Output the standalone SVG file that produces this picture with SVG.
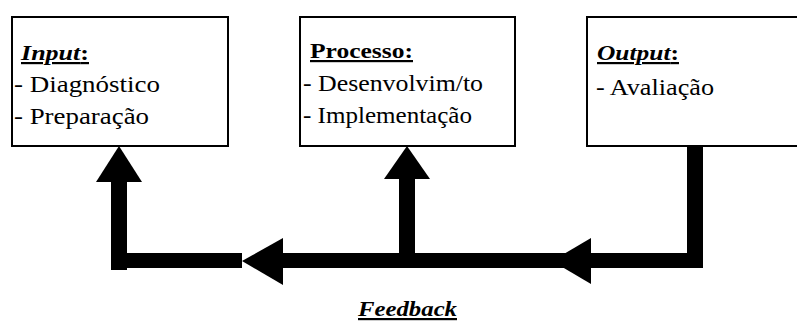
<svg xmlns="http://www.w3.org/2000/svg" width="797" height="321" viewBox="0 0 797 321">
  <style>
    .box { fill: #ffffff; stroke: #000000; stroke-width: 2; }
    text { fill: #000000; }
    .title { font-size: 22px; font-weight: bold; text-decoration: underline; }
    .it { font-style: italic; }
    .body { font-size: 24px; }
    .conn { fill: #000000; stroke: none; }
    .fb { font-size: 22px; font-weight: bold; font-style: italic; text-decoration: underline; }
  </style>

  <g id="input" font-family="Liberation Serif, Tinos, Times New Roman, DejaVu Serif, serif">
    <rect class="box" x="12" y="17" width="216" height="129"/>
    <text class="title" x="21" y="60" textLength="68" lengthAdjust="spacingAndGlyphs"><tspan class="it">Input</tspan>:</text>
    <text class="body" x="14" y="92" textLength="146" lengthAdjust="spacingAndGlyphs">- Diagnóstico</text>
    <text class="body" x="14" y="124" textLength="135" lengthAdjust="spacingAndGlyphs">- Preparação</text>
  </g>

  <g id="processo" font-family="Liberation Serif, Tinos, Times New Roman, DejaVu Serif, serif">
    <rect class="box" x="300" y="17" width="215" height="129"/>
    <text class="title" x="310" y="58" textLength="103" lengthAdjust="spacingAndGlyphs">Processo:</text>
    <text class="body" x="303" y="91" textLength="180" lengthAdjust="spacingAndGlyphs">- Desenvolvim/to</text>
    <text class="body" x="303" y="123" textLength="169" lengthAdjust="spacingAndGlyphs">- Implementação</text>
  </g>

  <g id="output" font-family="Liberation Serif, Tinos, Times New Roman, DejaVu Serif, serif">
    <rect class="box" x="587" y="17" width="220" height="129"/>
    <text class="title" x="597" y="60" textLength="82" lengthAdjust="spacingAndGlyphs"><tspan class="it">Output</tspan>:</text>
    <text class="body" x="596" y="95" textLength="118" lengthAdjust="spacingAndGlyphs">- Avaliação</text>
  </g>

  <g id="connectors">
    <!-- return path into Input -->
    <polygon class="conn" points="111,181 127,181 127,253 242,253 242,268 127,268 127,270 111,270"/>
    <polygon class="conn" points="119,146 142,182 96,182"/>
    <!-- return path into Processo -->
    <polygon class="conn" points="282,253 399,253 399,178 415,178 415,268 282,268"/>
    <polygon class="conn" points="407,146 430,179 384,179"/>
    <polygon class="conn" points="242,261 283,238 283,285"/>
    <!-- feedback leaving Output -->
    <polygon class="conn" points="687,146 703,146 703,268 415,268 415,253 687,253"/>
    <polygon class="conn" points="552,261 591,238 591,284"/>
  </g>

  <text class="fb" font-family="Liberation Serif, Tinos, Times New Roman, DejaVu Serif, serif" x="358" y="316" textLength="99" lengthAdjust="spacingAndGlyphs">Feedback</text>
</svg>
